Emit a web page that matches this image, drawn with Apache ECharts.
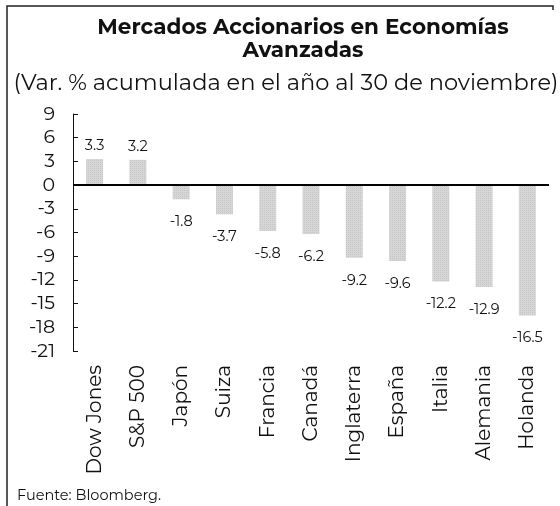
<!DOCTYPE html>
<html>
<head>
<meta charset="utf-8">
<script src="https://cdn.jsdelivr.net/npm/echarts@6/dist/echarts.min.js"></script>
<style>
  html, body { margin: 0; padding: 0; background: #fff; }
  #chart { width: 560px; height: 506px; }
</style>
</head>
<body>
<div id="chart"></div>
<script>
  // datos
  const categories = ['Dow Jones', 'S&P 500', 'Japón', 'Suiza', 'Francia', 'Canadá',
    'Inglaterra', 'España', 'Italia', 'Alemania', 'Holanda']
  const values = [3.3, 3.2, -1.8, -3.7, -5.8, -6.2, -9.2, -9.6, -12.2, -12.9, -16.5]

  const font = 'Montserrat, "Open Sans", "Noto Sans", sans-serif'
  const chart = echarts.init(document.getElementById('chart'))

  // etiqueta arriba para positivos, abajo para negativos
  const seriesData = values.map(v => ({
    value: v,
    label: v >= 0 ? { position: 'top', distance: 6 } : { position: 'bottom', distance: 15 }
  }))

  chart.setOption({
    animation: false,
    title: [{
      text: 'Mercados Accionarios en Economías\nAvanzadas',
      left: 298,
      textAlign: 'center',
      top: 11,
      textStyle: { fontFamily: font, fontSize: 21.5, fontWeight: 'bold', color: '#111', lineHeight: 23 }
    }, {
      text: '(Var. % acumulada en el año al 30 de noviembre)',
      left: 281,
      textAlign: 'center',
      top: 67,
      textStyle: { fontFamily: font, fontSize: 22.5, fontWeight: 'normal', color: '#111' }
    }, {
      text: 'Fuente: Bloomberg.',
      left: 12,
      top: 483,
      textStyle: { fontFamily: font, fontSize: 14.5, fontWeight: 'normal', color: '#111' }
    }],
    grid: { left: 73, right: 11, top: 114, bottom: 155 },
    xAxis: {
      type: 'category',
      data: categories,
      axisLine: { show: false, onZero: false },
      axisTick: { show: false },
      axisLabel: {
        rotate: 90,
        margin: 14,
        fontFamily: font,
        fontSize: 20,
        color: '#111'
      }
    },
    yAxis: {
      type: 'value',
      min: -21,
      max: 9,
      interval: 3,
      splitLine: { show: false },
      axisLine: { show: true, lineStyle: { color: '#111', width: 1 } },
      axisTick: { show: true, inside: true, length: 5, lineStyle: { color: '#111' } },
      axisLabel: { fontFamily: font, fontSize: 19, color: '#111', margin: 18 }
    },
    series: [{
      type: 'bar',
      data: seriesData,
      barWidth: 17,
      itemStyle: {
        color: '#d6d6d6',
        decal: {
          symbol: 'rect',
          symbolSize: 0.6,
          color: 'rgba(60,60,60,0.35)',
          dashArrayX: [1, 1],
          dashArrayY: [1, 1],
          rotation: 0
        }
      },
      label: {
        show: true,
        fontFamily: font,
        fontSize: 14.5,
        color: '#111'
      },
      markLine: {
        silent: true,
        symbol: 'none',
        label: { show: false },
        lineStyle: { color: '#000', width: 2, type: 'solid' },
        data: [{ yAxis: 0 }]
      }
    }],
    graphic: [{
      type: 'polyline',
      shape: { points: [[7, 506], [7, 6], [553, 6], [553, 10]] },
      style: { stroke: '#222', lineWidth: 1.5, fill: null }
    }]
  })
</script>
</body>
</html>
